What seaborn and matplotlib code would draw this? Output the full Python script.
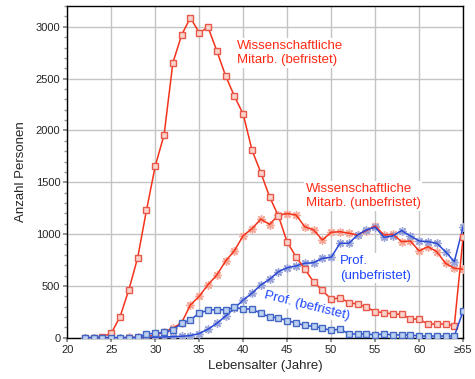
import numpy as np
import pandas as pd
import matplotlib
matplotlib.use("Agg")
import matplotlib.pyplot as plt
from matplotlib.ticker import MultipleLocator
import seaborn as sns

ages = list(range(22, 66))
wm_befristet = [0, 0, 10, 42, 203, 463, 772, 1230, 1657, 1957, 2651, 2922, 3089, 2941, 2996,
                2767, 2526, 2330, 2156, 1809, 1593, 1358, 1175, 921, 782, 660, 540, 456, 372,
                385, 338, 324, 295, 251, 242, 228, 226, 183, 177, 132, 132, 132, 116, 969]
wm_unbefristet = [0, 0, 0, 0, 0, 2, 5, 10, 25, 55, 90, 145, 316, 400, 512, 605, 740, 840, 985,
                  1052, 1145, 1092, 1184, 1198, 1184, 1071, 1040, 943, 1017, 1023, 1008, 991,
                  1033, 1078, 991, 998, 927, 933, 837, 878, 830, 718, 670, 660]
prof_unbefristet = [0, 0, 0, 0, 0, 0, 0, 2, 5, 7, 10, 14, 20, 40, 82, 139, 209, 284, 364, 430,
                    509, 564, 637, 675, 692, 718, 724, 766, 776, 911, 911, 991, 1040, 1066, 969,
                    982, 1033, 982, 933, 927, 911, 830, 734, 1071]
prof_befristet = [0, 0, 0, 0, 0, 0, 2, 36, 42, 52, 74, 139, 171, 238, 264, 272, 267, 293, 277,
                  276, 235, 200, 192, 164, 142, 118, 110, 92, 70, 84, 36, 36, 36, 26, 36, 26, 26,
                  26, 16, 16, 16, 16, 16, 258]
x_ticks = [20, 25, 30, 35, 40, 45, 50, 55, 60, 65]
x_tick_labels = ["20", "25", "30", "35", "40", "45", "50", "55", "60", "\u226565"]

sns.set_theme(style="whitegrid")
plt.rcParams["font.family"] = ["Liberation Sans", "DejaVu Sans"]

fig, ax = plt.subplots(figsize=(4.75, 3.79), dpi=100)
fig.subplots_adjust(left=0.1417, right=0.975, bottom=0.109, top=0.984)

RED = "#f5321a"
BLUE = "#2a4ad6"
RED_TXT = "#ff2a14"
BLUE_TXT = "#1f47ff"
star = (8, 2, 0)

# star markers first (below lines)
sns.lineplot(x=ages, y=wm_unbefristet, ax=ax, lw=0, marker=star, markersize=6,
             markeredgecolor="#f6a898", markerfacecolor="#f6a898", markeredgewidth=1.0, zorder=3)
sns.lineplot(x=ages, y=prof_unbefristet, ax=ax, lw=0, marker=star, markersize=6,
             markeredgecolor="#9aa4d8", markerfacecolor="#9aa4d8", markeredgewidth=1.0, zorder=3)
sns.lineplot(x=ages, y=wm_unbefristet, ax=ax, color=RED, lw=1.1, zorder=4)
sns.lineplot(x=ages, y=prof_unbefristet, ax=ax, color=BLUE, lw=1.1, zorder=4)

sns.lineplot(x=ages, y=wm_befristet, ax=ax, color=RED, lw=1.1, marker="s", markersize=5,
             markerfacecolor="#fbd3cb", markeredgecolor="#e8584a", markeredgewidth=1.0, zorder=5)
sns.lineplot(x=ages, y=prof_befristet, ax=ax, color=BLUE, lw=1.1, marker="s", markersize=5,
             markerfacecolor="#bcd0f0", markeredgecolor="#4266c4", markeredgewidth=1.0, zorder=5)

ax.set_xlim(20, 65)
ax.set_ylim(0, 3200)
ax.set_xticks(x_ticks)
ax.set_xticklabels(x_tick_labels)
ax.set_yticks([0, 500, 1000, 1500, 2000, 2500, 3000])
ax.yaxis.set_minor_locator(MultipleLocator(100))
ax.tick_params(axis="both", which="major", labelsize=8, direction="out", length=3,
               color="#888888", left=True, bottom=True, pad=2)
ax.tick_params(axis="y", which="minor", direction="out", length=2, color="#999999", left=True)
ax.grid(True, which="major", color="#c4c4c4", lw=1.0)
ax.grid(False, which="minor")
ax.set_axisbelow(True)
for s in ax.spines.values():
    s.set_color("black")
    s.set_linewidth(1.0)

ax.set_xlabel("Lebensalter (Jahre)", fontsize=9.5, labelpad=4)
ax.set_ylabel("Anzahl Personen", fontsize=9.5, labelpad=6)

bbox = dict(facecolor="white", edgecolor="none", pad=1.0)
ax.text(39.3, 2748, "Wissenschaftliche\nMitarb. (befristet)", color=RED_TXT, fontsize=9.5,
        ha="left", va="center", linespacing=1.3, bbox=bbox, zorder=2)
ax.text(47.1, 1368, "Wissenschaftliche\nMitarb. (unbefristet)", color=RED_TXT, fontsize=9.5,
        ha="left", va="center", linespacing=1.3, bbox=bbox, zorder=2)
ax.text(51.0, 671, "Prof.\n(unbefristet)", color=BLUE_TXT, fontsize=9.5,
        ha="left", va="center", linespacing=1.3, bbox=bbox, zorder=2)
ax.text(47.2, 306, "Prof. (befristet)", color=BLUE_TXT, fontsize=9.5, rotation=-14,
        ha="center", va="center", rotation_mode="anchor", bbox=bbox, zorder=2)

fig.savefig("out.png", dpi=100)
